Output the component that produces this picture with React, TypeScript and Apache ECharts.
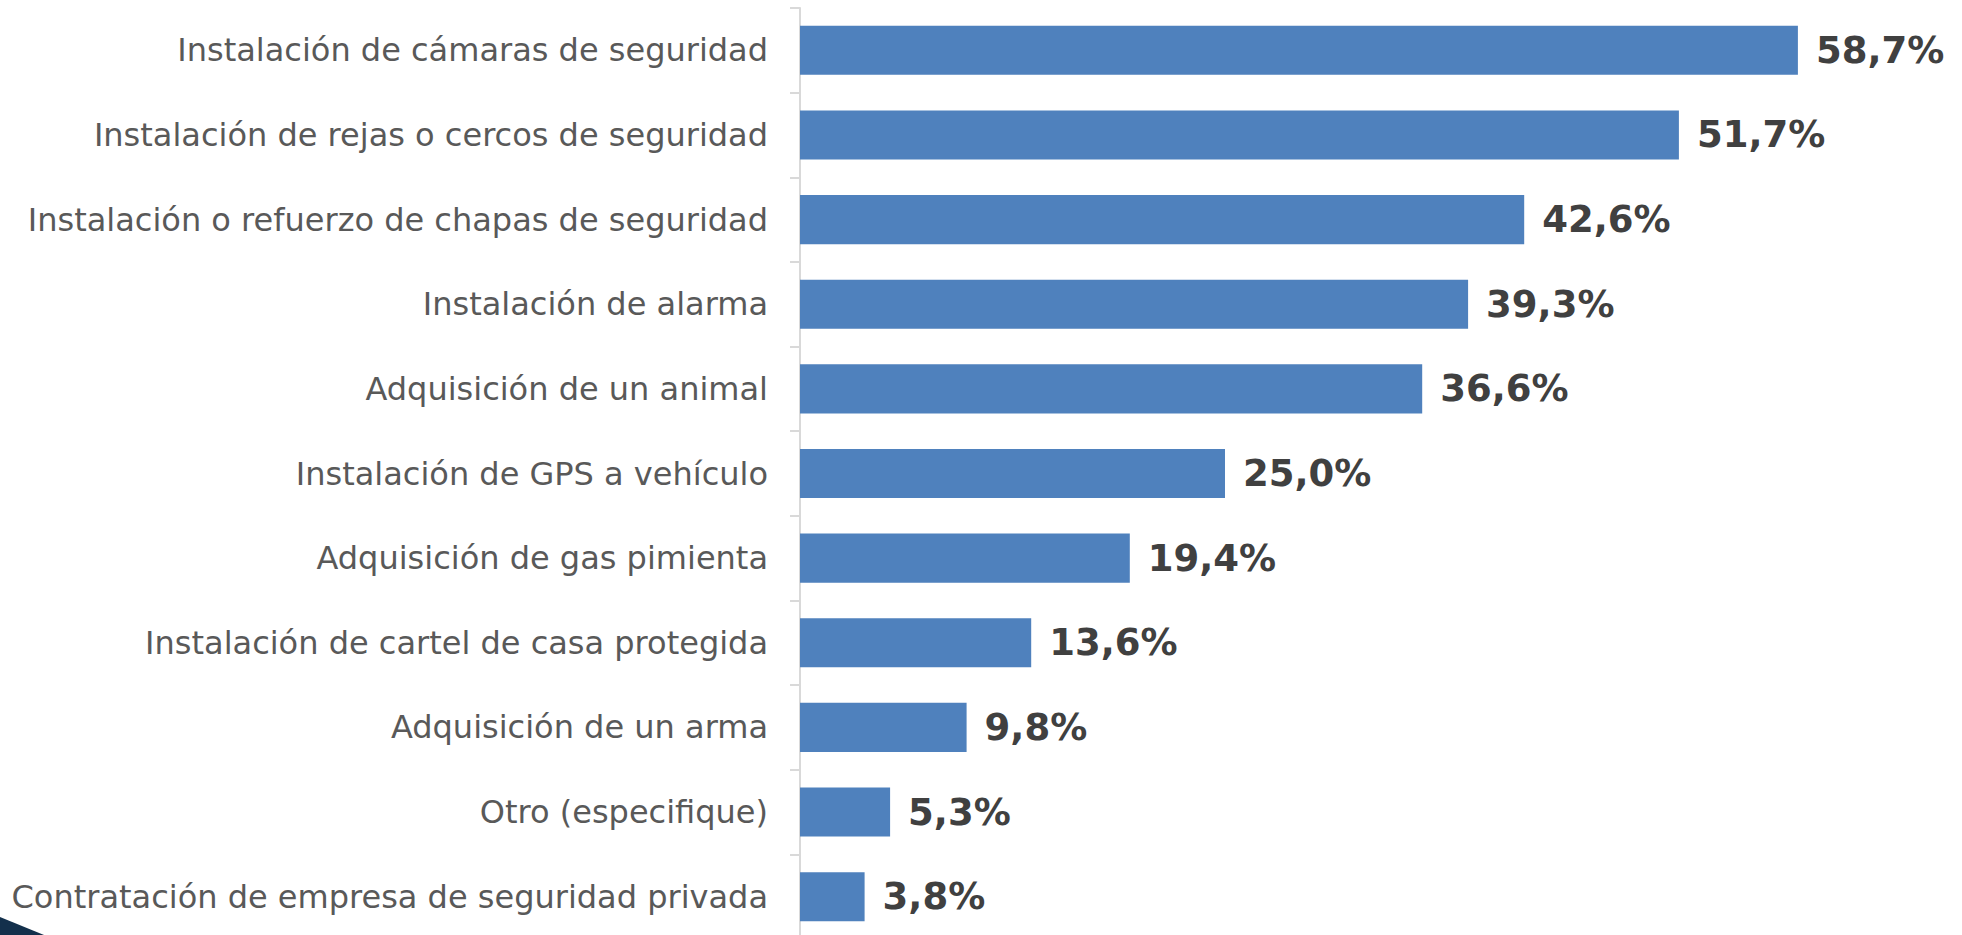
import React, { useEffect, useRef } from "react";
import * as echarts from "echarts";

const categories = [
  "Instalación de cámaras de seguridad",
  "Instalación de rejas o cercos de seguridad",
  "Instalación o refuerzo de chapas de seguridad",
  "Instalación de alarma",
  "Adquisición de un animal",
  "Instalación de GPS a vehículo",
  "Adquisición de gas pimienta",
  "Instalación de cartel de casa protegida",
  "Adquisición de un arma",
  "Otro (especifique)",
  "Contratación de empresa de seguridad privada",
];
const values = [58.7, 51.7, 42.6, 39.3, 36.6, 25.0, 19.4, 13.6, 9.8, 5.3, 3.8];

export default function App() {
  const ref = useRef<HTMLDivElement>(null);
  useEffect(() => {
    const chart = echarts.init(ref.current!, undefined, { renderer: "svg" });
    chart.setOption({
      animation: false,
      grid: { left: 800, top: 8, bottom: 0, width: 17 * 66 },
      xAxis: {
        type: "value",
        min: 0,
        max: 66,
        show: false,
      },
      yAxis: {
        type: "category",
        data: categories,
        inverse: true,
        axisLine: { show: true, lineStyle: { color: "#d9d9d9", width: 2 } },
        axisTick: { show: true, length: 10, lineStyle: { color: "#d9d9d9", width: 2 } },
        axisLabel: {
          margin: 32,
          color: "#595959",
          fontSize: 32,
          fontFamily: "DejaVu Sans",
        },
      },
      series: [
        {
          type: "bar",
          data: values,
          barWidth: "58%",
          itemStyle: { color: "#4f81bd" },
          label: {
            show: true,
            position: "right",
            distance: 18,
            color: "#404040",
            fontWeight: "bold",
            fontSize: 37,
            fontFamily: "DejaVu Sans",
            formatter: (p: any) => p.value.toFixed(1).replace(".", ",") + "%",
          },
        },
      ],
      graphic: [
        {
          type: "polygon",
          shape: { points: [[0, 917], [44, 935], [0, 935]] },
          style: { fill: "#13304c" },
        },
      ],
    });
    return () => chart.dispose();
  }, []);
  return (
    <div
      ref={ref}
      style={{ position: "absolute", left: 0, top: 0, width: 1962, height: 939 }}
    />
  );
}
